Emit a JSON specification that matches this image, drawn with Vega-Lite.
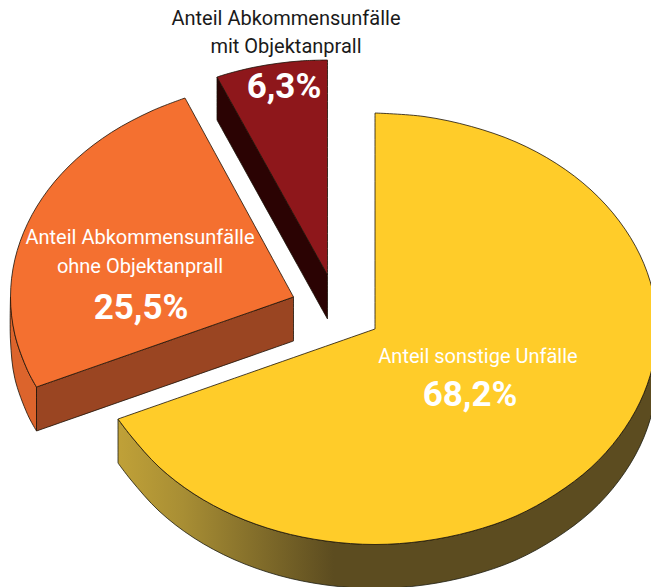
{
"$schema":"https://vega.github.io/schema/vega-lite/v6.json",
"width":651,"height":587,"padding":0,"autosize":{"type":"none"},
"background":"white","view":{"stroke":null},
"datasets":{
"outline":[
{"piece":"yellowSide","i":0,"x":657,"y":329},{"piece":"yellowSide","i":1,"x":652.7,"y":366},{"piece":"yellowSide","i":2,"x":640,"y":402},{"piece":"yellowSide","i":3,"x":619,"y":436.5},{"piece":"yellowSide","i":4,"x":591,"y":467.5},{"piece":"yellowSide","i":5,"x":556,"y":494},{"piece":"yellowSide","i":6,"x":516,"y":516},{"piece":"yellowSide","i":7,"x":471,"y":531.5},{"piece":"yellowSide","i":8,"x":424,"y":541},{"piece":"yellowSide","i":9,"x":375,"y":544.5},{"piece":"yellowSide","i":10,"x":326,"y":541},{"piece":"yellowSide","i":11,"x":279,"y":531.5},{"piece":"yellowSide","i":12,"x":234,"y":515.5},{"piece":"yellowSide","i":13,"x":194,"y":494},{"piece":"yellowSide","i":14,"x":159,"y":467},{"piece":"yellowSide","i":15,"x":131,"y":436},{"piece":"yellowSide","i":16,"x":118,"y":419},{"piece":"yellowSide","i":16.5,"x":118,"y":419},{"piece":"yellowSide","i":17,"x":118,"y":463},{"piece":"yellowSide","i":17.5,"x":118,"y":463},{"piece":"yellowSide","i":18,"x":131,"y":480},{"piece":"yellowSide","i":19,"x":159,"y":511},{"piece":"yellowSide","i":20,"x":194,"y":538},{"piece":"yellowSide","i":21,"x":234,"y":559.5},{"piece":"yellowSide","i":22,"x":279,"y":575.5},{"piece":"yellowSide","i":23,"x":326,"y":585},{"piece":"yellowSide","i":24,"x":375,"y":588.5},{"piece":"yellowSide","i":25,"x":424,"y":585},{"piece":"yellowSide","i":26,"x":471,"y":575.5},{"piece":"yellowSide","i":27,"x":516,"y":560},{"piece":"yellowSide","i":28,"x":556,"y":538},{"piece":"yellowSide","i":29,"x":591,"y":511.5},{"piece":"yellowSide","i":30,"x":619,"y":480.5},{"piece":"yellowSide","i":31,"x":640,"y":446},{"piece":"yellowSide","i":32,"x":652.7,"y":410},{"piece":"yellowSide","i":33,"x":657,"y":373},{"piece":"yellowSide","i":34,"x":657,"y":329},
{"piece":"yellowTop","i":0,"x":375,"y":329},{"piece":"yellowTop","i":0.5,"x":375,"y":329},{"piece":"yellowTop","i":1,"x":375,"y":113},{"piece":"yellowTop","i":1.5,"x":375,"y":113},{"piece":"yellowTop","i":2,"x":424,"y":116.5},{"piece":"yellowTop","i":3,"x":471.4,"y":126.5},{"piece":"yellowTop","i":4,"x":516,"y":142},{"piece":"yellowTop","i":5,"x":556.3,"y":163.5},{"piece":"yellowTop","i":6,"x":591,"y":190},{"piece":"yellowTop","i":7,"x":619.2,"y":221},{"piece":"yellowTop","i":8,"x":640,"y":255},{"piece":"yellowTop","i":9,"x":652.7,"y":291},{"piece":"yellowTop","i":10,"x":657,"y":329},{"piece":"yellowTop","i":11,"x":652.7,"y":366},{"piece":"yellowTop","i":12,"x":640,"y":402},{"piece":"yellowTop","i":13,"x":619,"y":436.5},{"piece":"yellowTop","i":14,"x":591,"y":467.5},{"piece":"yellowTop","i":15,"x":556,"y":494},{"piece":"yellowTop","i":16,"x":516,"y":516},{"piece":"yellowTop","i":17,"x":471,"y":531.5},{"piece":"yellowTop","i":18,"x":424,"y":541},{"piece":"yellowTop","i":19,"x":375,"y":544.5},{"piece":"yellowTop","i":20,"x":326,"y":541},{"piece":"yellowTop","i":21,"x":279,"y":531.5},{"piece":"yellowTop","i":22,"x":234,"y":515.5},{"piece":"yellowTop","i":23,"x":194,"y":494},{"piece":"yellowTop","i":24,"x":159,"y":467},{"piece":"yellowTop","i":25,"x":131,"y":436},{"piece":"yellowTop","i":26,"x":118,"y":419},{"piece":"yellowTop","i":26.5,"x":118,"y":419},{"piece":"yellowTop","i":27,"x":375,"y":329},{"piece":"yellowTop","i":27.5,"x":375,"y":329},
{"piece":"orangeOuter","i":0,"x":36.5,"y":387},{"piece":"orangeOuter","i":0.5,"x":36.5,"y":387},{"piece":"orangeOuter","i":1,"x":27.6,"y":370.5},{"piece":"orangeOuter","i":2,"x":14.8,"y":334.3},{"piece":"orangeOuter","i":3,"x":10.5,"y":297},{"piece":"orangeOuter","i":3.5,"x":10.5,"y":297},{"piece":"orangeOuter","i":4,"x":10.5,"y":341},{"piece":"orangeOuter","i":5,"x":14.8,"y":378.3},{"piece":"orangeOuter","i":6,"x":27.6,"y":414.5},{"piece":"orangeOuter","i":7,"x":36.5,"y":431},{"piece":"orangeOuter","i":7.5,"x":36.5,"y":431},{"piece":"orangeOuter","i":8,"x":36.5,"y":387},{"piece":"orangeOuter","i":8.5,"x":36.5,"y":387},
{"piece":"orangeFront","i":0,"x":36.5,"y":387},{"piece":"orangeFront","i":0.5,"x":36.5,"y":387},{"piece":"orangeFront","i":1,"x":293.5,"y":297},{"piece":"orangeFront","i":1.5,"x":293.5,"y":297},{"piece":"orangeFront","i":2,"x":293.5,"y":341},{"piece":"orangeFront","i":2.5,"x":293.5,"y":341},{"piece":"orangeFront","i":3,"x":36.5,"y":431},{"piece":"orangeFront","i":3.5,"x":36.5,"y":431},{"piece":"orangeFront","i":4,"x":36.5,"y":387},{"piece":"orangeFront","i":4.5,"x":36.5,"y":387},
{"piece":"orangeTop","i":0,"x":293.5,"y":297},{"piece":"orangeTop","i":0.5,"x":293.5,"y":297},{"piece":"orangeTop","i":1,"x":36.5,"y":387},{"piece":"orangeTop","i":1.5,"x":36.5,"y":387},{"piece":"orangeTop","i":2,"x":27.6,"y":370.5},{"piece":"orangeTop","i":3,"x":14.8,"y":334.3},{"piece":"orangeTop","i":4,"x":10.5,"y":297},{"piece":"orangeTop","i":5,"x":14.8,"y":259.7},{"piece":"orangeTop","i":6,"x":27.6,"y":223.5},{"piece":"orangeTop","i":7,"x":48.4,"y":189.5},{"piece":"orangeTop","i":8,"x":76.7,"y":158.8},{"piece":"orangeTop","i":9,"x":111.6,"y":132.3},{"piece":"orangeTop","i":10,"x":152,"y":110.8},{"piece":"orangeTop","i":11,"x":185,"y":98},{"piece":"orangeTop","i":11.5,"x":185,"y":98},{"piece":"orangeTop","i":12,"x":293.5,"y":297},{"piece":"orangeTop","i":12.5,"x":293.5,"y":297},
{"piece":"redSide","i":0,"x":217,"y":77},{"piece":"redSide","i":0.5,"x":217,"y":77},{"piece":"redSide","i":1,"x":217,"y":120},{"piece":"redSide","i":1.5,"x":217,"y":120},{"piece":"redSide","i":2,"x":327.5,"y":319},{"piece":"redSide","i":2.5,"x":327.5,"y":319},{"piece":"redSide","i":3,"x":327.5,"y":275},{"piece":"redSide","i":3.5,"x":327.5,"y":275},{"piece":"redSide","i":4,"x":217,"y":77},{"piece":"redSide","i":4.5,"x":217,"y":77},
{"piece":"redTop","i":0,"x":327.5,"y":275},{"piece":"redTop","i":0.5,"x":327.5,"y":275},{"piece":"redTop","i":1,"x":217,"y":77},{"piece":"redTop","i":1.5,"x":217,"y":77},{"piece":"redTop","i":2,"x":230.2,"y":73},{"piece":"redTop","i":3,"x":253.8,"y":67.3},{"piece":"redTop","i":4,"x":277.9,"y":63.3},{"piece":"redTop","i":5,"x":302.3,"y":60.8},{"piece":"redTop","i":6,"x":327.5,"y":60},{"piece":"redTop","i":6.5,"x":327.5,"y":60},{"piece":"redTop","i":7,"x":327.5,"y":275},{"piece":"redTop","i":7.5,"x":327.5,"y":275}
]},
"layer":[
{"data":{"name":"outline"},"transform":[{"filter":"datum.piece === 'yellowSide'"}],
 "mark":{"type":"line","interpolate":"catmull-rom","clip":true,"stroke":"#1c1c10","strokeWidth":0.8,"fill":{"gradient":"linear","x1":0,"y1":0,"x2":1,"y2":0,"stops":[{"offset":0,"color":"#C0A138"},{"offset":0.12,"color":"#A88E34"},{"offset":0.4,"color":"#5C4C20"},{"offset":1,"color":"#5C4C20"}]}},
 "encoding":{"x":{"field":"x","type":"quantitative","scale":{"domain":[0,651],"nice":false,"zero":false},"axis":null},"y":{"field":"y","type":"quantitative","scale":{"domain":[0,587],"nice":false,"zero":false,"reverse":true},"axis":null},"order":{"field":"i"}}},
{"data":{"name":"outline"},"transform":[{"filter":"datum.piece !== 'yellowSide'"}],
 "mark":{"type":"line","interpolate":"catmull-rom","clip":true,"stroke":"#1a1208","strokeWidth":0.8},
 "encoding":{"x":{"field":"x","type":"quantitative","axis":null},"y":{"field":"y","type":"quantitative","axis":null},"order":{"field":"i"},"detail":{"field":"piece"},
 "fill":{"field":"piece","type":"nominal","legend":null,"scale":{"domain":["yellowTop","orangeOuter","orangeFront","orangeTop","redSide","redTop"],"range":["#FFCC29","#DC642C","#9A4522","#F47030","#2B0303","#8E171B"]}}}},
{"data":{"values":[{"t":"Anteil Abkommensunfälle","x":286,"y":19},{"t":"mit Objektanprall","x":286,"y":47}]},
 "mark":{"type":"text","font":"Roboto","fontSize":20,"fill":"#1a1a1a","align":"center","baseline":"middle"},
 "encoding":{"x":{"field":"x","type":"quantitative","axis":null},"y":{"field":"y","type":"quantitative","axis":null},"text":{"field":"t"}}},
{"data":{"values":[{"t":"Anteil Abkommensunfälle","x":140,"y":238},{"t":"ohne Objektanprall","x":140,"y":267},{"t":"Anteil sonstige Unfälle","x":478,"y":357}]},
 "mark":{"type":"text","font":"Roboto","fontSize":20,"fill":"#ffffff","align":"center","baseline":"middle"},
 "encoding":{"x":{"field":"x","type":"quantitative","axis":null},"y":{"field":"y","type":"quantitative","axis":null},"text":{"field":"t"}}},
{"data":{"values":[{"t":"6,3%","x":284,"y":87},{"t":"25,5%","x":141,"y":308},{"t":"68,2%","x":470,"y":395}]},
 "mark":{"type":"text","font":"Roboto","fontWeight":"bold","fontSize":35,"fill":"#ffffff","align":"center","baseline":"middle"},
 "encoding":{"x":{"field":"x","type":"quantitative","axis":null},"y":{"field":"y","type":"quantitative","axis":null},"text":{"field":"t"}}}
]
}
